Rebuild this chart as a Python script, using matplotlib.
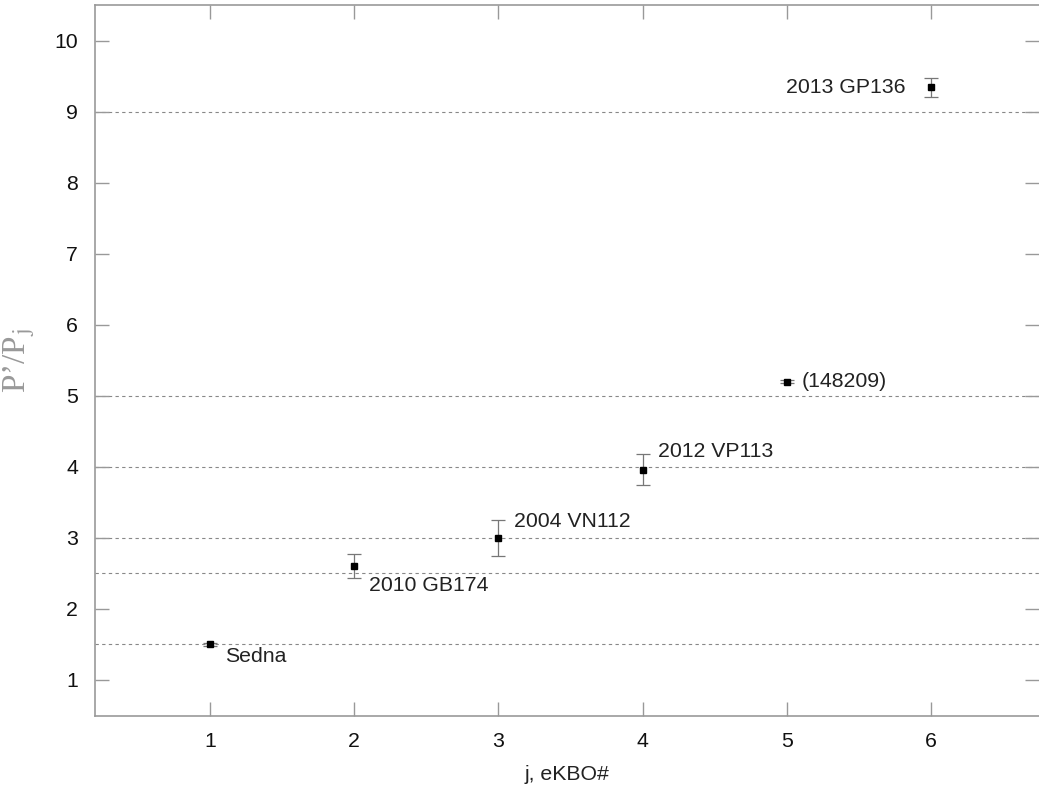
import matplotlib
matplotlib.use("Agg")
import matplotlib.pyplot as plt

# period ratios P'/P_j for the extreme KBOs, with uncertainties
j = [1, 2, 3, 4, 5, 6]
ratio = [1.50, 2.61, 3.00, 3.96, 5.20, 9.34]
ratio_err = [0.02, 0.17, 0.25, 0.22, 0.02, 0.13]
names = ["Sedna", "2010 GB174", "2004 VN112", "2012 VP113", "(148209)", "2013 GP136"]

# resonance levels drawn as dotted guides
levels = [1.5, 2.5, 3, 4, 5, 9]

# label offsets in points (x, y) and alignment per object
offsets = [(11, -9), (11, -14), (11, 12), (11, 13), (11, 0), (-18, 0)]
aligns = ["left", "left", "left", "left", "left", "right"]

plt.rcParams["font.family"] = ["Liberation Sans", "DejaVu Sans"]
plt.rcParams["mathtext.fontset"] = "stix"

grey = "#999999"

fig = plt.figure(figsize=(10.39, 7.90), dpi=100)
ax = fig.add_axes([94.7 / 1039, 1 - 715.5 / 790, (1039 - 94.7) / 1039, (715.5 - 5) / 790])

for lv in levels:
    ax.axhline(lv, color="#888888", lw=0.8, ls=(0, (3, 3)), zorder=1)

ax.errorbar(j, ratio, yerr=ratio_err, fmt="s", ms=5, mfc="black", mec="black",
            ecolor="#777777", elinewidth=0.9, capsize=5, capthick=0.9, zorder=3)

for x, y, name, off, ha in zip(j, ratio, names, offsets, aligns):
    ax.annotate(name, (x, y), xytext=off, textcoords="offset points",
                ha=ha, va="center", fontsize=15.3, color="#222222")

ax.set_xlim(0.2, 6.75)
ax.set_ylim(0.5, 10.5)
ax.set_xticks(j)
ax.set_yticks(range(1, 11))

for side in ["left", "bottom", "top"]:
    ax.spines[side].set_color(grey)
    ax.spines[side].set_linewidth(1.2)
ax.spines["right"].set_visible(False)

ax.tick_params(direction="in", length=10, width=1, color=grey, labelsize=15.3,
               labelcolor="#111111", top=True, right=True, pad=12)

ax.set_xlabel("j, eKBO#", fontsize=15.3, color="#222222", labelpad=10)
ax.set_ylabel("P\u2019/P$_{\\mathrm{j}}$", fontsize=24, color=grey,
              family="Liberation Serif", va="center")
ax.yaxis.set_label_coords(-75 / 944, 0.5)

fig.savefig("out.png", dpi=100)
